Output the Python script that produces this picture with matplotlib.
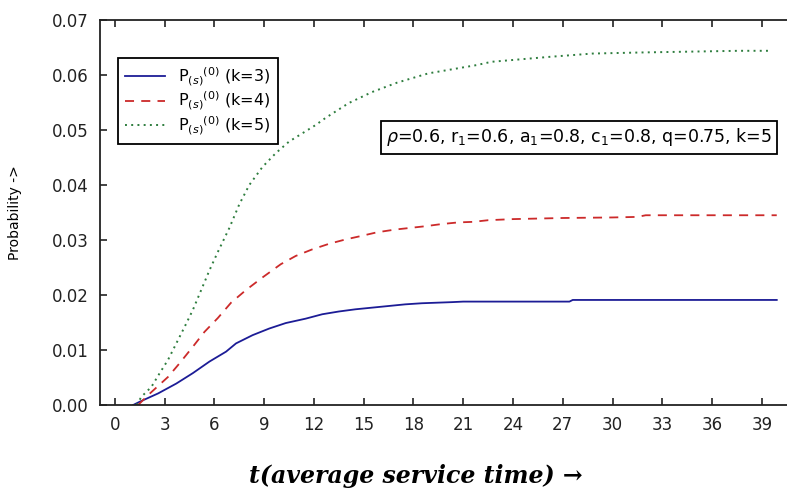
import numpy as np
import matplotlib
matplotlib.use("Agg")
import matplotlib.pyplot as plt

# datos
t_k3 = [1.1, 1.5, 2.6, 3.7, 4.7, 5.7, 6.7, 7.3, 8.3, 9.3, 10.3, 11.5, 12.5, 13.5,
        14.5, 15.5, 16.5, 17.5, 18.5, 20.3, 21.0, 27.4, 27.6, 33.0, 39.9]
p_k3 = [0.0, 0.0006, 0.0021, 0.0039, 0.0058, 0.0079, 0.0097, 0.0112, 0.0127, 0.0139,
        0.0149, 0.0157, 0.0165, 0.0170, 0.0174, 0.0177, 0.0180, 0.0183, 0.0185,
        0.0187, 0.0188, 0.0188, 0.0191, 0.0191, 0.0191]

t_k4 = [1.4, 2.0, 3.2, 3.9, 4.7, 5.4, 6.2, 7.0, 7.9, 8.9, 10.0, 10.9, 11.9, 12.9,
        13.9, 14.8, 15.8, 16.9, 17.8, 18.7, 19.7, 20.7, 21.6, 22.5, 24.0, 27.0,
        30.0, 31.5, 32.0, 36.0, 39.9]
p_k4 = [0.0, 0.0018, 0.0051, 0.0076, 0.0106, 0.0133, 0.0158, 0.0186, 0.0209, 0.0232,
        0.0256, 0.0271, 0.0283, 0.0293, 0.0301, 0.0307, 0.0314, 0.0319, 0.0322,
        0.0325, 0.0329, 0.0332, 0.0333, 0.0336, 0.0338, 0.0340, 0.0341, 0.0342,
        0.0345, 0.0345, 0.0345]

t_k5 = [1.3, 1.6, 2.2, 2.7, 3.2, 3.7, 4.2, 4.7, 5.2, 5.7, 6.2, 6.9, 7.5, 8.1,
        8.9, 9.7, 10.5, 11.3, 12.1, 12.7, 14.1, 15.5, 17.0, 18.9, 21.8, 22.7,
        26.2, 28.8, 31.8, 37.6, 39.6]
p_k5 = [0.0, 0.0015, 0.0033, 0.0058, 0.0082, 0.0112, 0.0142, 0.0173, 0.0209, 0.0245,
        0.0278, 0.0322, 0.0365, 0.0400, 0.0433, 0.0458, 0.0479, 0.0494,
        0.0509, 0.0522, 0.0549, 0.0569, 0.0586, 0.0603, 0.0618, 0.0624, 0.0633,
        0.0639, 0.0641, 0.0644, 0.0644]

x_ticks = list(range(0, 40, 3))
y_ticks = [0.00, 0.01, 0.02, 0.03, 0.04, 0.05, 0.06, 0.07]

etiquetas = [r"P$_{(s)}$$^{(0)}$ (k=3)", r"P$_{(s)}$$^{(0)}$ (k=4)", r"P$_{(s)}$$^{(0)}$ (k=5)"]
texto_param = r"$\rho$=0.6, r$_1$=0.6, a$_1$=0.8, c$_1$=0.8, q=0.75, k=5"

fig = plt.figure(figsize=(7.87, 4.95), dpi=100)
ax = fig.add_axes([100/787, 90/495, 695/787, 385/495])

ax.plot(t_k3, p_k3, color="#1c1c96", lw=1.3, ls="-", label=etiquetas[0])
ax.plot(t_k4, p_k4, color="#cc2a2a", lw=1.3, ls=(0, (5, 4)), label=etiquetas[1])
ax.plot(t_k5, p_k5, color="#2e7d3e", lw=1.4, ls=(0, (1, 2.2)), label=etiquetas[2])

ax.set_xlim(-0.9, 41)
ax.set_ylim(0, 0.07)
ax.set_xticks(x_ticks)
ax.set_yticks(y_ticks)
ax.set_yticklabels([f"{v:.2f}" for v in y_ticks])
ax.tick_params(direction="in", length=5, width=1.2, labelsize=12, pad=8,
               top=True, right=False, colors="#222222")
ax.spines["right"].set_visible(False)
for s in ["left", "bottom", "top"]:
    ax.spines[s].set_linewidth(1.3)
    ax.spines[s].set_color("#222222")

ax.set_ylabel("Probability ->", fontsize=10)
ax.yaxis.set_label_coords(-0.112, 0.5)

leg = ax.legend(loc="upper left", bbox_to_anchor=(0.026, 0.901), borderaxespad=0,
                fontsize=11.5, fancybox=False, edgecolor="black", framealpha=1,
                handlelength=2.5, labelspacing=0.15, borderpad=0.45)
leg.get_frame().set_linewidth(1.3)

ax.text(0.6895, 0.695, texto_param, transform=ax.transAxes, ha="center", va="center",
        fontsize=12.5,
        bbox=dict(boxstyle="square,pad=0.3", facecolor="white", edgecolor="black", lw=1.3))

fig.text(416/787, 1 - 476/495, "t(average service time) →", ha="center", va="center",
         fontsize=17, family="DejaVu Serif", style="italic", weight="bold")

plt.savefig("out.png", dpi=100)
plt.close()
